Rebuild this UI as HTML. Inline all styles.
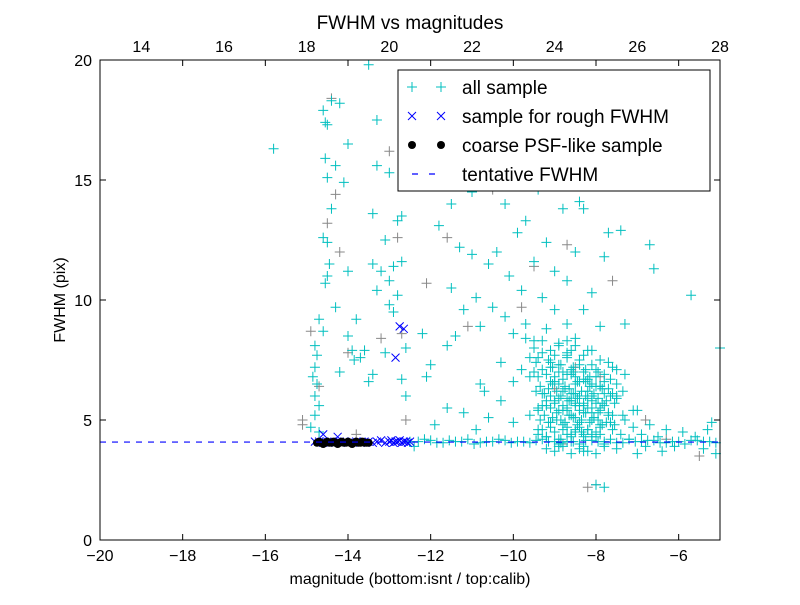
<!DOCTYPE html>
<html><head><meta charset="utf-8"><style>
body{margin:0;background:#fff;}
svg text{font-family:"Liberation Sans",sans-serif;}
</style></head><body>
<svg id="chart" width="800" height="600" xmlns="http://www.w3.org/2000/svg">
<rect width="800" height="600" fill="#fff"/>
<g id="plot"></g>
<g id="axes"></g>
</svg>
<script>
const xTicks=[-20,-18,-16,-14,-12,-10,-8,-6];
const topTicks=[14,16,18,20,22,24,26,28];
const yTicks=[0,5,10,15,20];
const cyanMag=[-15.8,-14.6,-14.55,-14.5,-14.55,-14.5,-14.6,-14.5,-14.45,-14.5,-14.55,-14.7,-14.6,-14.8,-14.75,-14.8,-14.85,-14.75,-14.8,-14.7,-14.8,-14.9,-14.7,-14.4,-14.4,-14.2,-14.1,-14.0,-14.3,-14.2,-14.0,-13.9,-13.8,-13.85,-13.6,-13.7,-13.5,-13.4,-13.3,-13.3,-13.4,-13.2,-13.3,-13.1,-13.0,-13.0,-12.9,-12.9,-12.8,-12.7,-12.7,-12.7,-12.6,-13.0,-13.1,-12.6,-12.8,-14.0,-14.3,-13.5,-13.4,
-12.2,-12.0,-12.1,-11.8,-11.6,-11.5,-11.5,-11.4,-11.3,-11.2,-11.0,-11.0,-10.9,-10.8,-10.8,-10.7,-10.6,-10.5,-10.5,-10.4,-10.3,-10.2,-10.2,-10.1,-10.0,-10.0,-10.0,-10.0,-10.6,-11.2,-10.3,-11.6,-11.9,-10.9,
-9.9,-9.8,-9.8,-9.7,-9.7,-9.6,-9.6,-9.5,-9.5,-9.4,-9.4,-9.4,-9.3,-9.3,-9.2,-9.2,-9.2,-9.1,-9.1,-9.0,-9.0,-9.0,-9.0,-8.9,-8.9,-8.9,-8.8,-8.8,-8.8,-8.8,-8.7,-8.7,-8.7,-8.7,-8.6,-8.6,-8.6,-8.5,-8.5,-8.5,-8.5,-8.4,-8.4,-8.4,-8.3,-8.3,-8.3,-8.3,-8.2,-8.2,-8.2,-8.1,-8.1,-8.1,-8.0,-8.0,-8.0,-7.9,-7.9,-7.9,-7.8,-7.8,-7.7,-7.7,-7.6,-7.6,-7.5,-7.5,-7.4,-7.3,-7.3,-7.2,-7.1,-7.0,-7.0,-6.9,-6.8,-6.7,-6.7,-6.6,-6.5,-6.4,-6.3,-6.1,-5.9,-5.7,-5.6,-5.4,-5.3,-5.1,-5.0,-5.2,-7.4,-7.8,-8.0,-7.8,-8.3,-8.4,-9.6,-9.2,-8.6,-8.1,-8.9,-8.6,-8.4,-8.6,-8.7,-8.5,-9.2,-8.2,-8.3,-8.8,-9.0,-9.4,-8.1,-7.9,-8.7,-9.1,
-8.75,-8.45,-8.25,-8.05,-7.85,-7.65,-8.55,-8.35,-8.15,-7.95,-9.05,-8.95,-8.65,-8.85,-7.55,-7.35,-8.5,-8.3,-8.1,-7.9,
-12.3,-12.0,-11.7,-11.4,-11.1,-10.8,-10.5,-10.2,-9.9,-9.6,-9.3,-9.0,-8.7,-8.4,-8.1,-7.8,-7.5,-7.2,-6.9,-6.6,-6.3,-6.0,-5.7,-5.4,-5.1,-12.15,-11.85,-11.55,-11.25,-10.95,-10.65,-10.35,-10.05,-9.75,-9.45,-9.15,-8.85,-8.55,-8.25,-7.95,-7.65,-7.35,-7.05,-6.75,-6.45,-6.15,-5.85,-5.55,-5.25,-12.5,-12.4];
const cyanFwhm=[16.3,17.9,17.4,17.3,15.9,15.1,12.6,12.4,11.5,11.0,10.7,9.2,8.7,8.1,7.7,7.2,6.8,6.5,6.0,5.6,5.2,4.7,4.5,13.8,18.3,18.2,14.9,16.5,9.7,7.0,8.5,7.9,9.2,7.5,7.9,7.6,19.8,13.6,15.6,17.5,11.5,11.2,10.4,12.5,15.3,10.8,11.4,9.5,13.3,13.5,11.6,6.7,6.0,9.8,7.8,8.0,10.2,11.2,15.6,6.6,6.9,
8.6,7.3,6.8,13.1,8.1,10.5,14.0,8.5,12.2,9.6,14.5,11.9,10.1,6.5,8.9,6.2,11.5,16.3,9.7,12.0,7.4,14.0,9.3,11.0,8.6,6.6,15.4,4.9,5.1,5.3,5.8,5.5,4.8,4.6,
12.8,10.4,7.1,13.3,9.0,5.2,6.8,11.6,8.3,14.6,7.6,4.6,10.1,6.1,12.4,8.8,5.6,7.4,4.9,16.8,11.2,9.6,6.6,8.1,5.4,3.9,13.8,7.0,6.2,4.8,10.8,9.0,7.7,5.9,6.9,5.2,4.4,12.0,8.4,6.5,5.6,7.3,6.0,4.9,9.6,6.7,5.3,3.7,7.9,6.2,4.6,10.3,5.8,5.0,7.1,6.4,4.3,5.5,4.8,8.9,6.1,4.0,5.2,12.8,4.6,7.2,5.9,3.8,4.4,5.0,9.0,4.2,4.7,3.6,5.4,4.4,3.9,4.8,12.3,11.3,4.3,3.7,4.6,3.9,4.5,10.2,4.3,3.8,4.6,3.6,8.0,4.9,12.9,11.8,2.3,2.2,13.8,14.1,17.6,18.5,15.5,5.3,6.5,7.9,5.6,6.1,4.7,4.6,4.3,5.5,4.3,5.4,5.8,5.4,4.4,6.4,8.3,6.0,
6.3,5.9,6.6,5.1,5.7,4.9,7.0,4.5,6.8,5.3,7.2,5.0,5.8,4.2,4.8,5.2,5.1,5.7,6.0,4.7,
4.1,4.15,4.05,4.1,4.2,4.05,4.1,4.15,4.1,4.05,4.2,4.1,4.1,4.0,4.15,4.1,4.05,4.2,4.1,4.15,4.05,4.1,4.15,4.1,4.05,4.2,4.05,4.15,4.1,4.0,4.1,4.2,4.05,4.1,4.15,4.1,4.05,4.1,4.15,4.1,4.2,4.05,4.1,4.15,4.05,4.1,4.0,4.15,4.1,4.1,3.9];
const clusterMag=[-9.4,-9.3,-9.2,-9.1,-9.0,-8.9,-8.8,-8.7,-8.6,-8.5,-8.4,-8.3,-8.2,-8.1,-8.0,-7.9,
-9.35,-9.25,-9.15,-9.05,-8.95,-8.85,-8.75,-8.65,-8.55,-8.45,-8.35,-8.25,-8.15,-8.05,-7.95,-7.85,-7.75,
-9.3,-9.2,-9.1,-9.0,-8.9,-8.8,-8.7,-8.6,-8.5,-8.4,-8.3,-8.2,-8.1,-8.0,-7.9,-7.8,-7.7,-7.6,
-9.45,-9.35,-9.25,-9.15,-9.05,-8.95,-8.85,-8.75,-8.65,-8.55,-8.45,-8.35,-8.25,-8.15,-8.05,-7.95,-7.85,-7.75,-7.65,-7.55,
-9.5,-9.4,-9.3,-9.2,-9.1,-9.0,-8.9,-8.8,-8.7,-8.6,-8.5,-8.4,-8.3,-8.2,-8.1,-8.0,-7.9,-7.8,-7.7,-7.6,-7.5,
-9.6,-9.45,-9.3,-9.15,-9.0,-8.85,-8.7,-8.55,-8.4,-8.25,-8.1,-7.95,-7.8,-7.65,-7.5,-7.35,
-9.7,-9.5,-9.3,-9.1,-8.9,-8.7,-8.5,-8.3,-8.1,-7.9,-7.7,-7.5,-7.3,-7.1,
-9.2,-9.0,-8.8,-8.6,-8.4,-8.2,-8.0,-7.8,-9.4,-9.1,-8.9,-8.6,-8.3,-8.7,-8.5,-8.9];
const clusterFwhm=[4.4,4.6,4.3,4.7,4.5,4.2,4.6,4.4,4.3,4.5,4.7,4.4,4.6,4.3,4.5,4.4,
5.0,5.2,4.9,5.1,5.3,5.0,4.9,5.2,5.1,4.8,5.0,5.3,4.9,5.1,5.0,4.8,4.9,
5.6,5.8,5.5,5.7,5.9,5.6,5.5,5.8,5.7,5.4,5.6,5.9,5.5,5.7,5.4,5.6,5.3,5.2,
6.2,6.4,6.1,6.3,6.5,6.2,6.0,6.4,6.3,6.1,6.6,6.2,6.0,6.4,6.1,5.9,6.3,5.8,6.0,5.7,
7.0,6.8,7.1,6.9,7.2,6.8,7.0,6.7,6.9,7.1,6.8,6.6,7.0,6.7,6.5,6.8,6.4,6.6,6.3,6.1,6.0,
7.6,7.4,7.8,7.5,7.7,7.3,7.6,7.2,7.5,7.1,7.3,7.0,6.9,6.7,6.5,6.2,
8.4,8.0,8.3,7.9,8.2,7.8,8.1,7.7,7.9,7.5,7.4,7.1,6.9,5.4,
3.8,3.7,3.9,3.6,3.8,3.7,3.6,3.9,5.5,6.6,7.3,4.1,3.9,5.4,6.1,4.0];
const greyMag=[-15.1,-15.1,-14.9,-14.4,-14.3,-14.5,-14.2,-13.2,-13.0,-12.8,-12.6,-12.1,-11.6,-11.1,-10.5,-9.8,-9.5,-8.7,-8.2,-8.0,-7.9,-7.6,-6.8,-6.3,-5.5,-9.0,-8.5,-8.8,-13.8,-14.0,-12.7,-14.7];
const greyFwhm=[5.0,4.8,8.7,18.4,14.4,13.2,12.0,8.4,16.2,12.6,5.0,10.7,12.6,8.9,14.6,9.7,11.4,12.3,2.2,2.3,6.8,10.8,5.0,4.2,3.5,6.3,7.2,4.0,4.4,7.8,8.6,6.4];
const roughMag=[-14.8,-14.7,-14.6,-14.5,-14.4,-14.3,-14.2,-14.1,-14.0,-13.9,-13.8,-13.7,-13.6,-13.5,-13.4,-13.3,-13.2,-13.1,-13.0,-12.95,-12.9,-12.85,-12.8,-12.75,-12.7,-12.65,-12.6,-12.55,-12.5,-14.6,-14.25,-12.75,-12.85,-12.65];
const roughFwhm=[4.1,4.1,4.05,4.1,4.1,4.05,4.1,4.1,4.05,4.1,4.1,4.05,4.1,4.1,4.05,4.1,4.15,4.05,4.1,4.15,4.05,4.1,4.1,4.15,4.05,4.1,4.1,4.05,4.1,4.4,4.3,8.9,7.6,8.8];
const psfMag=[-14.75,-14.7,-14.65,-14.6,-14.55,-14.5,-14.45,-14.4,-14.35,-14.3,-14.25,-14.2,-14.15,-14.1,-14.05,-14.0,-13.95,-13.9,-13.85,-13.8,-13.75,-13.7,-13.65,-13.6,-13.55,-13.5];
const psfFwhm=[4.05,4.1,4.05,4.0,4.05,4.1,4.05,4.05,4.1,4.05,4.0,4.05,4.1,4.05,4.05,4.1,4.05,4.0,4.05,4.1,4.05,4.05,4.1,4.05,4.05,4.05];
const tentative=[4.08];

const L=100,R=720,T=60,B=540,xMin=-20,xMax=-5,yMax=20,offset=33;
const sx=v=>L+(v-xMin)/(xMax-xMin)*(R-L);
const sy=v=>B-v/yMax*(B-T);
const NS="http://www.w3.org/2000/svg";
const plot=document.getElementById('plot'), axes=document.getElementById('axes');
function mk(tag,attrs,parent){const e=document.createElementNS(NS,tag);for(const k in attrs)e.setAttribute(k,attrs[k]);parent.appendChild(e);return e;}
function plus(x,y,c,parent,nm){const g=mk('path',{d:`M${x-5},${y}H${x+5}M${x},${y-5}V${y+5}`,stroke:c,'stroke-width':1,fill:'none'},parent);

}
greyMag.forEach((m,i)=>plus(sx(m),sy(greyFwhm[i]),'#888',plot,'grey-point'));
cyanMag.forEach((m,i)=>plus(sx(m),sy(cyanFwhm[i]),'#00bfbf',plot,'all-sample-point'));
clusterMag.forEach((m,i)=>plus(sx(m),sy(clusterFwhm[i]),'#00bfbf',plot,'all-sample-point'));
roughMag.forEach((m,i)=>{const x=sx(m),y=sy(roughFwhm[i]);const e=mk('path',{d:`M${x-4},${y-4}L${x+4},${y+4}M${x-4},${y+4}L${x+4},${y-4}`,stroke:'#0000ff','stroke-width':1},plot);

});
psfMag.forEach((m,i)=>{const e=mk('circle',{cx:sx(m),cy:sy(psfFwhm[i]),r:4,fill:'#000'},plot);

});
const tl=mk('line',{x1:L,x2:R,y1:sy(tentative[0]),y2:sy(tentative[0]),stroke:'#0000ff','stroke-width':1.2,'stroke-dasharray':'6,6'},plot);


const fr=mk('rect',{x:L,y:T,width:R-L,height:B-T,fill:'none',stroke:'#000','stroke-width':1},axes);


function txt(x,y,s,anchor,size,nm,rot){const e=mk('text',{x:x,y:y,'text-anchor':anchor,'font-size':size,fill:'#000'},axes);if(rot)e.setAttribute('transform',rot);e.textContent=s;

return e;}
xTicks.forEach(t=>{const x=sx(t);mk('path',{d:`M${x},${B}v-6M${x},${T}v6`,stroke:'#000'},axes);txt(x,B+21,(t<0?'\u2212':'')+Math.abs(t),'middle',16,'x-tick-label');});
topTicks.forEach(t=>{const x=sx(t-offset);txt(x,T-8,String(t),'middle',16,'top-tick-label');});
yTicks.forEach(t=>{const y=sy(t);mk('path',{d:`M${L},${y}h6M${R},${y}h-6`,stroke:'#000'},axes);txt(L-8,y+6,String(t),'end',16,'y-tick-label');});
txt(410,29,'FWHM vs magnitudes','middle',19,'chart-title');
txt(410,584,'magnitude (bottom:isnt / top:calib)','middle',16,'x-axis-title');
txt(65,300,'FWHM (pix)','middle',16,'y-axis-title','rotate(-90 65 300)');
const lg=mk('g',{},axes);
mk('rect',{x:398,y:70,width:312,height:121,fill:'#fff',stroke:'#000'},lg);
const ly=[87,116,145,174],lt=['all sample','sample for rough FWHM','coarse PSF-like sample','tentative FWHM'];
ly.forEach((y,i)=>{const t=mk('text',{x:462,y:y+7,'font-size':19,fill:'#000'},lg);t.textContent=lt[i];

});
[412,441].forEach(x=>{const y=ly[0];mk('path',{d:`M${x-5},${y}H${x+5}M${x},${y-5}V${y+5}`,stroke:'#00bfbf'},lg);
const y2=ly[1];mk('path',{d:`M${x-4},${y2-4}L${x+4},${y2+4}M${x-4},${y2+4}L${x+4},${y2-4}`,stroke:'#0000ff'},lg);
mk('circle',{cx:x,cy:ly[2],r:4,fill:'#000'},lg);});
mk('line',{x1:412,x2:441,y1:ly[3],y2:ly[3],stroke:'#0000ff','stroke-width':1.2,'stroke-dasharray':'6,11'},lg);
</script>
</body></html>
